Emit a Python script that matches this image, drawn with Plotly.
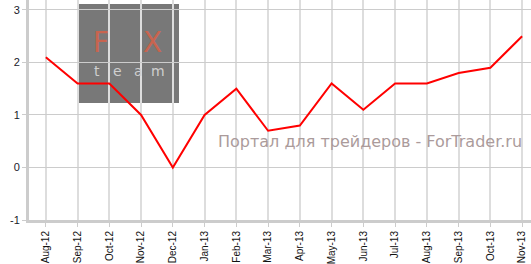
import plotly.graph_objects as go

months = ["Aug-12", "Sep-12", "Oct-12", "Nov-12", "Dec-12", "Jan-13", "Feb-13", "Mar-13",
          "Apr-13", "May-13", "Jun-13", "Jul-13", "Aug-13", "Sep-13", "Oct-13", "Nov-13"]
values = [2.1, 1.6, 1.6, 1.0, 0.0, 1.0, 1.5, 0.7, 0.8, 1.6, 1.1, 1.6, 1.6, 1.8, 1.9, 2.5]
y_ticks = [-1, 0, 1, 2, 3]
y_labels = ["-1", "0", "1", "2", "3"]

x_idx = list(range(len(months)))

fig = go.Figure()
fig.add_trace(go.Scatter(x=x_idx, y=values, mode="lines",
                         line=dict(color="#ff0000", width=2), hoverinfo="skip"))

def px(x):
    return (x - 29) / 502

def py(y):
    return (222 - y) / 222

# logo box (below gridlines)
fig.add_shape(type="rect", xref="paper", yref="paper",
              x0=px(79), x1=px(179), y0=py(104), y1=py(4),
              fillcolor="#787878", line=dict(width=0), layer="below")

for letter, cx in (("F", 101), ("X", 152)):
    fig.add_annotation(xref="paper", yref="paper", x=px(cx), y=py(43),
                       xanchor="center", yanchor="middle",
                       text=letter, showarrow=False,
                       font=dict(family="DejaVu Sans", size=28, color="#c8644f"))
for letter, cx in (("t", 97), ("e", 117), ("a", 138), ("m", 158)):
    fig.add_annotation(xref="paper", yref="paper", x=px(cx), y=py(72),
                       xanchor="center", yanchor="middle",
                       text=letter, showarrow=False,
                       font=dict(family="DejaVu Sans", size=14, color="#cfcfcf"))

fig.add_annotation(xref="paper", yref="paper", x=px(370), y=py(143),
                   xanchor="center", yanchor="middle",
                   text="Портал для трейдеров - ForTrader.ru", showarrow=False,
                   font=dict(family="DejaVu Sans", size=16, color="#ab9b9b"))

fig.update_layout(
    width=531, height=264,
    margin=dict(l=29, r=0, t=0, b=42),
    paper_bgcolor="white", plot_bgcolor="white",
    showlegend=False,
    xaxis=dict(range=[-0.53, 15.28], tickmode="array", tickvals=x_idx, ticktext=months,
               tickangle=-90, showgrid=True, gridcolor="#dddddd", gridwidth=2,
               zeroline=False, showline=True, linecolor="#cccccc", linewidth=3,
               ticks="outside", ticklen=4, tickcolor="#cccccc",
               tickfont=dict(family="Arial", size=10, color="#111111")),
    yaxis=dict(range=[-1, 3.19], tickmode="array", tickvals=y_ticks, ticktext=y_labels,
               showgrid=True, gridcolor="#cccccc", gridwidth=1,
               zeroline=False, showline=True, linecolor="#cccccc", linewidth=3,
               ticks="outside", ticklen=4, tickcolor="#cccccc",
               tickfont=dict(family="Arial", size=11, color="#1a1a2a")),
)

fig.write_html("out.html")
